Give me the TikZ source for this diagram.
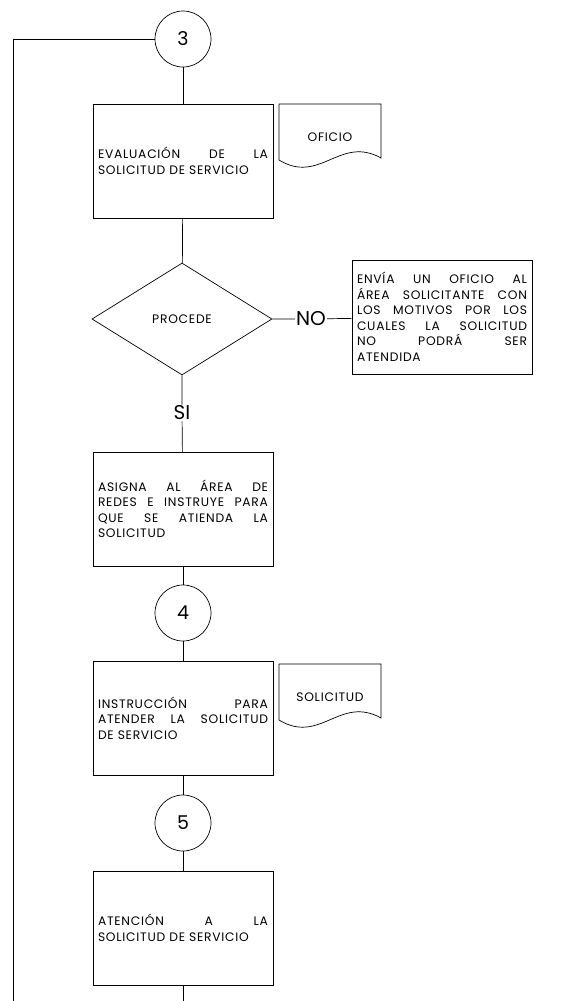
\documentclass[tikz,border=0pt]{standalone}
\usepackage{fontspec}
\setmainfont{Poppins}
\newfontfamily\cajafont[LetterSpace=6]{Poppins}
\usetikzlibrary{calc, shapes.geometric}

\begin{document}
\begin{tikzpicture}[x=1pt, y=-1pt, line width=0.7pt,
  proceso/.style={draw, minimum width=180pt, minimum height=114pt, text width=170pt,
    inner sep=0pt, align=justify, font=\cajafont\fontsize{12.3}{15.5}\selectfont},
  conector/.style={draw, circle, minimum size=56pt, inner sep=0pt, font=\fontsize{19}{20}\selectfont},
  decision/.style={draw, diamond, minimum width=180pt, minimum height=112pt, inner sep=0pt,
    font=\cajafont\fontsize{12.3}{15.5}\selectfont},
  etiqueta/.style={inner sep=1pt, font=\fontsize{20}{20}\selectfont},
  doctexto/.style={inner sep=0pt, font=\cajafont\fontsize{12.3}{15.5}\selectfont}]
  \useasboundingbox (0,0) rectangle (577,1001);

  \coordinate (esq) at (13,39);
  \coordinate (retorno) at (13,1001);
  \coordinate (fin) at (183,1001);

  \node[conector] (c3) at (183,39) {3};
  \node[proceso] (eval) at (183,161) {EVALUACIÓN DE LA\linebreak SOLICITUD DE SERVICIO};
  \node[doctexto] (oficio) at (330,137) {OFICIO};
  \node[decision] (procede) at (182,319) {PROCEDE};
  \node[etiqueta] (no) at (311,319) {NO};
  \node[proceso] (envia) at (442,317) {ENVÍA UN OFICIO AL\linebreak ÁREA SOLICITANTE CON\linebreak
    LOS MOTIVOS POR LOS\linebreak CUALES LA SOLICITUD\linebreak NO PODRÁ SER\linebreak ATENDIDA};
  \node[etiqueta] (si) at (182,413) {SI};
  \node[proceso] (asigna) at (183,509) {ASIGNA AL ÁREA DE\linebreak REDES E INSTRUYE PARA\linebreak
    QUE SE ATIENDA LA\linebreak SOLICITUD};
  \node[conector] (c4) at (183,613) {4};
  \node[proceso] (instruc) at (183,718) {INSTRUCCIÓN PARA\linebreak ATENDER LA SOLICITUD\linebreak DE SERVICIO};
  \node[doctexto] (solic) at (330,697) {SOLICITUD};
  \node[conector] (c5) at (183,823) {5};
  \node[proceso] (atencion) at (183,928) {ATENCIÓN A LA\linebreak SOLICITUD DE SERVICIO};

  % documentos
  \foreach \d in {oficio, solic}
    \draw ($(\d)+(-51,-33)$) -- ($(\d)+(51,-33)$) -- ($(\d)+(51,21)$)
      .. controls ($(\d)+(10,-2)$) and ($(\d)+(-10,48)$) .. ($(\d)+(-51,23)$) -- cycle;

  \draw (c3) -- (eval);
  \draw (eval) -- (procede);
  \draw (procede) -- (no) -- (envia);
  \draw (procede) -- (si) -- (asigna);
  \draw (asigna) -- (c4);
  \draw (c4) -- (instruc);
  \draw (instruc) -- (c5);
  \draw (c5) -- (atencion);
  \draw (atencion) -- (fin);
  \draw (c3) -- (esq) -- (retorno);
\end{tikzpicture}
\end{document}
